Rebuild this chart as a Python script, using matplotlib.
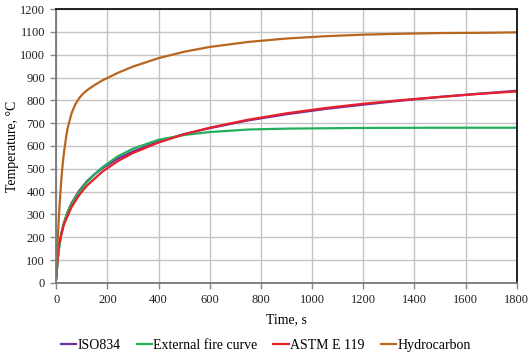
import matplotlib
matplotlib.use('Agg')
import matplotlib.pyplot as plt

plt.rcParams['font.family'] = ['Liberation Serif', 'DejaVu Serif']

# time, s
t_iso = [0, 5, 10, 15, 20, 30, 45, 60, 90, 120, 150, 180, 240, 300, 400, 500, 600, 750, 900, 1050, 1200, 1350, 1500, 1650, 1800]
iso834 = [20, 97, 147, 185, 215, 261, 312, 349, 404, 445, 476, 502, 544, 576, 619, 652, 678, 712, 739, 762, 781, 799, 815, 829, 842]

t_ext = [0, 10, 20, 30, 45, 60, 90, 120, 150, 180, 240, 300, 400, 500, 600, 750, 900, 1200, 1500, 1800]
external = [20, 141, 214, 263, 311, 346, 399, 441, 476, 506, 554, 588, 627, 648, 661, 672, 676, 679, 680, 680]

t_astm = [0, 10, 30, 60, 90, 120, 180, 240, 300, 400, 500, 600, 750, 900, 1050, 1200, 1350, 1500, 1650, 1800]
astm = [20, 165, 255, 332, 385, 426, 487, 533, 569, 615, 651, 680, 715, 743, 766, 785, 801, 815, 828, 839]

t_hc = [0, 5, 10, 15, 20, 25, 30, 40, 45, 60, 75, 90, 105, 120, 150, 180, 240, 300, 400, 500, 600, 750, 900, 1050, 1200, 1350, 1500, 1650, 1800]
hydrocarbon = [20, 162, 278, 373, 451, 515, 568, 648, 679, 743, 783, 810, 829, 844, 867, 887, 920, 948, 985, 1013, 1034, 1056, 1071, 1081, 1088, 1092, 1095, 1096, 1098]

x_ticks = list(range(0, 1801, 200))
y_ticks = list(range(0, 1201, 100))

fig = plt.figure(figsize=(5.3, 3.64), dpi=100)
ax = fig.add_axes([0.106, 0.223, 0.869, 0.752])

ax.plot(t_iso, iso834, color='#7030a0', lw=1.6, label='ISO834')
ax.plot(t_ext, external, color='#22b05a', lw=1.6, label='External fire curve')
ax.plot(t_astm, astm, color='#e8202a', lw=1.6, label='ASTM E 119')
ax.plot(t_hc, hydrocarbon, color='#b8651e', lw=1.6, label='Hydrocarbon')

ax.set_xlim(0, 1800)
ax.set_ylim(0, 1200)
ax.set_xticks(x_ticks)
ax.set_yticks(y_ticks)
ax.grid(True, color='#c4c4c4', lw=1.0)
ax.set_axisbelow(True)
ax.tick_params(length=4, width=1, color='#888888', labelsize=9, labelcolor='#222222')
ax.tick_params(axis='x', pad=4)
ax.tick_params(axis='y', pad=4)

for s in ['top', 'right']:
    ax.spines[s].set_color('#111111')
    ax.spines[s].set_linewidth(1.3)
for s in ['left', 'bottom']:
    ax.spines[s].set_color('#777777')
    ax.spines[s].set_linewidth(1.3)

ax.set_xlabel('Time, s', fontsize=10, labelpad=5)
ax.set_ylabel('Temperature, °C', fontsize=10, labelpad=1)

ax.legend(loc='upper center', bbox_to_anchor=(0.455, -0.16), ncol=4, frameon=False,
          fontsize=10, handlelength=1.1, handletextpad=0.1, columnspacing=1.15)

fig.savefig('out.png', dpi=100)
